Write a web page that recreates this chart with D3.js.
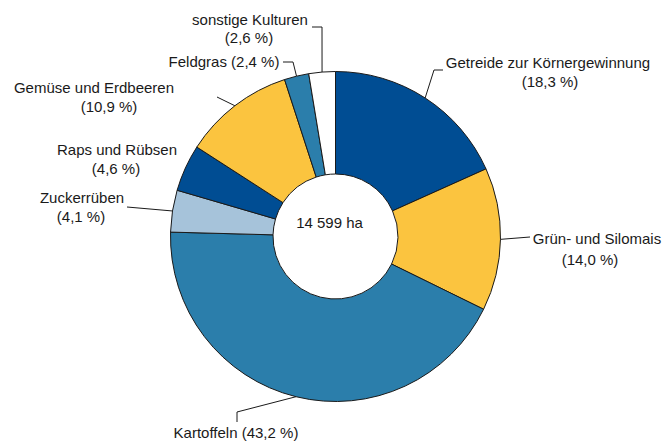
<!DOCTYPE html>
<html lang="de">
<head>
  <meta charset="UTF-8">
  <title>Anbauflächen</title>
  <script src="https://d3js.org/d3.v7.min.js"></script>
  <style>
    body { margin: 0; background: #fff; font-family: "Liberation Sans", Arial, sans-serif; }
    text { fill: #1a1a1a; font-size: 15px; }
  </style>
</head>
<body>
  <svg id="chart" width="665" height="441"></svg>
  <script>
    // data
    const categories = ['Getreide zur Körnergewinnung', 'Grün- und Silomais', 'Kartoffeln', 'Zuckerrüben',
      'Raps und Rübsen', 'Gemüse und Erdbeeren', 'Feldgras', 'sonstige Kulturen'];
    const shares = [18.3, 14.0, 43.2, 4.1, 4.6, 10.9, 2.4, 2.6];
    const totalLabel = '14 599 ha';

    const colors = ['#004d93', '#fbc43f', '#2b7eab', '#a6c3da', '#004d93', '#fbc43f', '#2b7eab', '#ffffff'];

    // label layout: text lines + anchor, leader elbow/end points (null = no leader)
    const labelLayout = [
      { lines: [[548, 68, 'Getreide zur Körnergewinnung'], [550, 87, '(18,3 %)']], leader: [[434, 70], [443, 70]] },
      { lines: [[597, 244, 'Grün- und Silomais'], [590, 265, '(14,0 %)']], leader: [[530, 237]] },
      { lines: [[236, 438, 'Kartoffeln (43,2 %)']], leader: [[237, 412], [237, 422]] },
      { lines: [[82, 203, 'Zuckerrüben'], [81, 222, '(4,1 %)']], leader: [[127, 207]] },
      { lines: [[117, 155, 'Raps und Rübsen'], [116, 174, '(4,6 %)']], leader: null },
      { lines: [[94, 93, 'Gemüse und Erdbeeren'], [109, 112, '(10,9 %)']], leader: [[217, 97]] },
      { lines: [[224, 67, 'Feldgras (2,4 %)']], leader: [[293, 62], [283, 62]] },
      { lines: [[250, 25, 'sonstige Kulturen'], [249, 43, '(2,6 %)']], leader: [[322, 27], [312, 27]] }
    ];

    const svg = d3.select('#chart');
    const cx = 335.5, cy = 236.5, rOuter = 165, rInner = 62.5;

    const pie = d3.pie().sort(null).value(d => d);
    const arcs = pie(shares);
    const arc = d3.arc().innerRadius(rInner).outerRadius(rOuter);

    const g = svg.append('g').attr('transform', `translate(${cx},${cy})`);
    g.selectAll('path.slice')
      .data(arcs)
      .enter()
      .append('path')
      .attr('class', 'slice')
      .attr('d', arc)
      .attr('fill', (d, i) => colors[i])
      .attr('stroke', '#1a1a1a')
      .attr('stroke-width', 1);

    g.append('text')
      .attr('x', -6)
      .attr('y', -9)
      .attr('text-anchor', 'middle')
      .text(totalLabel);

    // leader lines
    arcs.forEach((d, i) => {
      const lay = labelLayout[i];
      if (lay.leader) {
        const a = (d.startAngle + d.endAngle) / 2;
        const pts = [[cx + rOuter * Math.sin(a), cy - rOuter * Math.cos(a)]].concat(lay.leader);
        svg.append('path')
          .attr('d', d3.line()(pts))
          .attr('fill', 'none')
          .attr('stroke', '#1a1a1a')
          .attr('stroke-width', 1);
      }
      lay.lines.forEach(l => {
        svg.append('text')
          .attr('x', l[0])
          .attr('y', l[1])
          .attr('text-anchor', 'middle')
          .text(l[2]);
      });
    });
  </script>
</body>
</html>
